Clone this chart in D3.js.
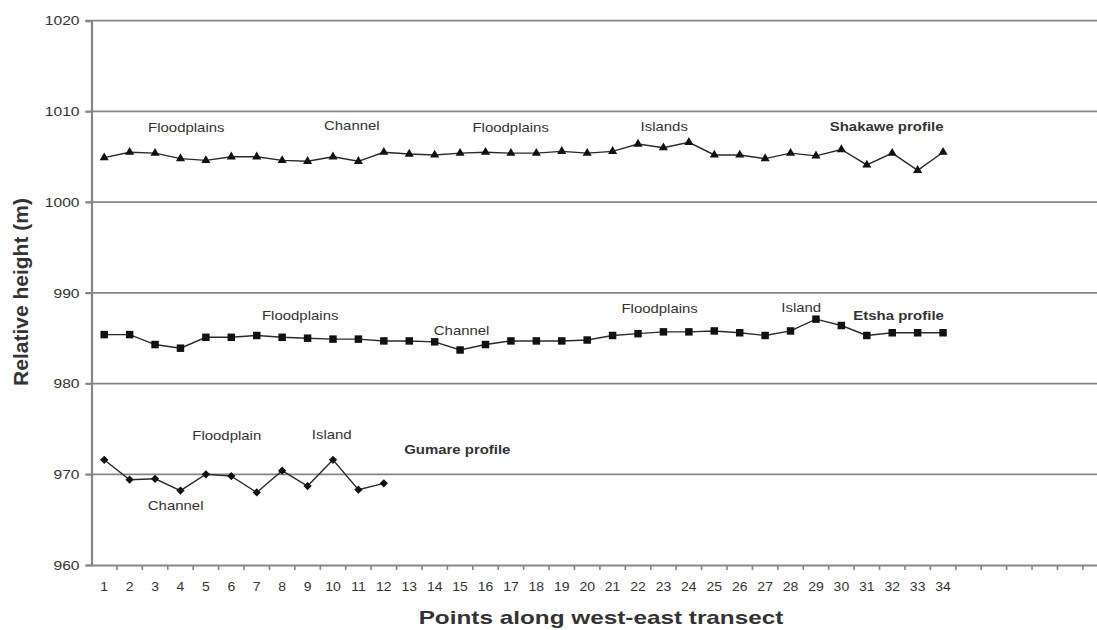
<!DOCTYPE html>
<html>
<head>
<meta charset="utf-8">
<script src="https://cdn.jsdelivr.net/npm/d3@7"></script>
<style>
  html, body { margin: 0; padding: 0; background: #fff; }
  svg { display: block; }
  text { font-family: "Liberation Sans", Arial, sans-serif; fill: #333; }
</style>
</head>
<body>
<svg id="chart" width="1097" height="630"></svg>
<script>
// ---- data ----
const categories = [1,2,3,4,5,6,7,8,9,10,11,12,13,14,15,16,17,18,19,20,21,22,23,24,25,26,27,28,29,30,31,32,33,34,35,36,37,38,39,40];
const tickLabels = ["1","2","3","4","5","6","7","8","9","10","11","12","13","14","15","16","17","18","19","20","21","22","23","24","25","26","27","28","29","30","31","32","33","34","","","","","",""];
const yTicks = [960, 970, 980, 990, 1000, 1010, 1020];

const shakawe = [1004.9,1005.5,1005.4,1004.8,1004.6,1005.0,1005.0,1004.6,1004.5,1005.0,1004.5,1005.5,1005.3,1005.2,1005.4,
                 1005.5,1005.4,1005.4,1005.6,1005.4,1005.6,1006.4,1006.0,1006.6,1005.2,1005.2,1004.8,1005.4,1005.1,1005.8,
                 1004.1,1005.4,1003.5,1005.5];
const etsha = [985.4,985.4,984.3,983.9,985.1,985.1,985.3,985.1,985.0,984.9,984.9,984.7,984.7,984.6,983.7,
               984.3,984.7,984.7,984.7,984.8,985.3,985.5,985.7,985.7,985.8,985.6,985.3,985.8,987.1,986.4,
               985.3,985.6,985.6,985.6];
const gumare = [971.6,969.4,969.5,968.2,970.0,969.8,968.0,970.4,968.7,971.6,968.3,969.0];

// annotations: text, category position, height value, bold
const annText = ["Floodplains","Channel","Floodplains","Islands","Shakawe profile",
                 "Floodplains","Channel","Floodplains","Island","Etsha profile",
                 "Floodplain","Island","Gumare profile","Channel"];
const annCat  = [4.23,10.74,16.99,23.03,31.78, 8.71,15.06,22.85,28.42,32.25, 5.82,9.95,14.89,3.81];
const annVal  = [1007.78,1007.94,1007.78,1007.83,1007.83, 987.06,985.30,987.77,987.88,987.0, 973.83,973.89,972.23,966.06];
const annBold = [false,false,false,false,true, false,false,false,false,true, false,false,true,false];

// ---- layout ----
const svg = d3.select("#chart");
const mLeft = 91.5, mTop = 20.7, mBottom = 565, step = 25.42;
const x = d3.scaleBand().domain(categories).range([mLeft, mLeft + step * categories.length]).padding(0);
const xc = d => x(d) + x.bandwidth() / 2;
const xf = c => mLeft + (c - 0.5) * step; // fractional category position
const y = d3.scaleLinear().domain([960, 1020]).range([mBottom, mTop]);

const gridColor = "#858585";

// gridlines
svg.append("g").selectAll("line").data(yTicks.filter(v => v > 960)).join("line")
  .attr("x1", mLeft - 6).attr("x2", 1097)
  .attr("y1", d => y(d)).attr("y2", d => y(d))
  .attr("stroke", gridColor).attr("stroke-width", 1.7);

// y axis
const yAxis = d3.axisLeft(y).tickValues(yTicks).tickSize(6).tickPadding(6).tickFormat(d3.format("d"));
const gy = svg.append("g").attr("transform", `translate(${mLeft},0)`).call(yAxis);
gy.select(".domain").attr("stroke", gridColor).attr("stroke-width", 2.2);
gy.selectAll(".tick line").attr("stroke", gridColor).attr("stroke-width", 1.7);
gy.selectAll(".tick text").each(function() {
  const t = d3.select(this);
  const xx = +t.attr("x");
  t.attr("x", 0).attr("dy", "0.34em")
   .attr("transform", `translate(${xx},0) scale(1.25,1)`)
   .style("font-size", "12.5px").style("font-family", '"Liberation Sans", Arial, sans-serif').attr("fill", "#444");
});

// x axis
const xAxis = d3.axisBottom(x).tickSize(0).tickFormat((d, i) => tickLabels[i]);
const gx = svg.append("g").attr("transform", `translate(0,${mBottom})`).call(xAxis);
gx.select(".domain").attr("stroke", gridColor).attr("stroke-width", 2.2);
gx.selectAll(".tick text").attr("y", 0).attr("dy", 0)
  .attr("transform", "translate(0,26) scale(1.12,1)")
  .style("font-size", "12.5px").style("font-family", '"Liberation Sans", Arial, sans-serif').attr("fill", "#444");
// boundary ticks
svg.append("g").selectAll("line").data(categories).join("line")
  .attr("x1", d => x(d) + step).attr("x2", d => x(d) + step)
  .attr("y1", mBottom).attr("y2", mBottom + 5)
  .attr("stroke", gridColor).attr("stroke-width", 1.6);

// lines
const line = d3.line().x((d, i) => xc(categories[i])).y(d => y(d));
const lineColor = "#2a2a2a";
[shakawe, etsha, gumare].forEach(s => {
  svg.append("path").datum(s).attr("d", line)
    .attr("fill", "none").attr("stroke", lineColor).attr("stroke-width", 1.4);
});

// markers
svg.append("g").selectAll("path").data(shakawe).join("path")
  .attr("d", d3.symbol(d3.symbolTriangle, 36)())
  .attr("transform", (d, i) => `translate(${xc(categories[i])},${y(d)})`)
  .attr("fill", "#111");
svg.append("g").selectAll("path").data(etsha).join("path")
  .attr("d", d3.symbol(d3.symbolSquare, 56)())
  .attr("transform", (d, i) => `translate(${xc(categories[i])},${y(d)})`)
  .attr("fill", "#111");
svg.append("g").selectAll("path").data(gumare).join("path")
  .attr("d", d3.symbol(d3.symbolSquare, 34)())
  .attr("transform", (d, i) => `translate(${xc(categories[i])},${y(d)}) rotate(45)`)
  .attr("fill", "#111");

// annotations
svg.append("g").selectAll("text").data(annText).join("text")
  .attr("text-anchor", "middle")
  .attr("transform", (d, i) => `translate(${xf(annCat[i])},${y(annVal[i])}) scale(1.15,1)`)
  .style("font-size", "13px")
  .style("font-weight", (d, i) => annBold[i] ? "bold" : "normal")
  .attr("fill", (d, i) => annBold[i] ? "#333" : "#444")
  .text(d => d);

// axis titles
svg.append("text").attr("text-anchor", "middle")
  .attr("transform", "translate(601,624) scale(1.28,1)")
  .style("font-size", "19px").style("font-weight", "bold").attr("fill", "#333")
  .text("Points along west-east transect");
svg.append("text").attr("text-anchor", "middle")
  .attr("transform", "translate(28,292) rotate(-90)")
  .style("font-size", "21px").style("font-weight", "bold").attr("fill", "#333")
  .text("Relative height (m)");
</script>
</body>
</html>
